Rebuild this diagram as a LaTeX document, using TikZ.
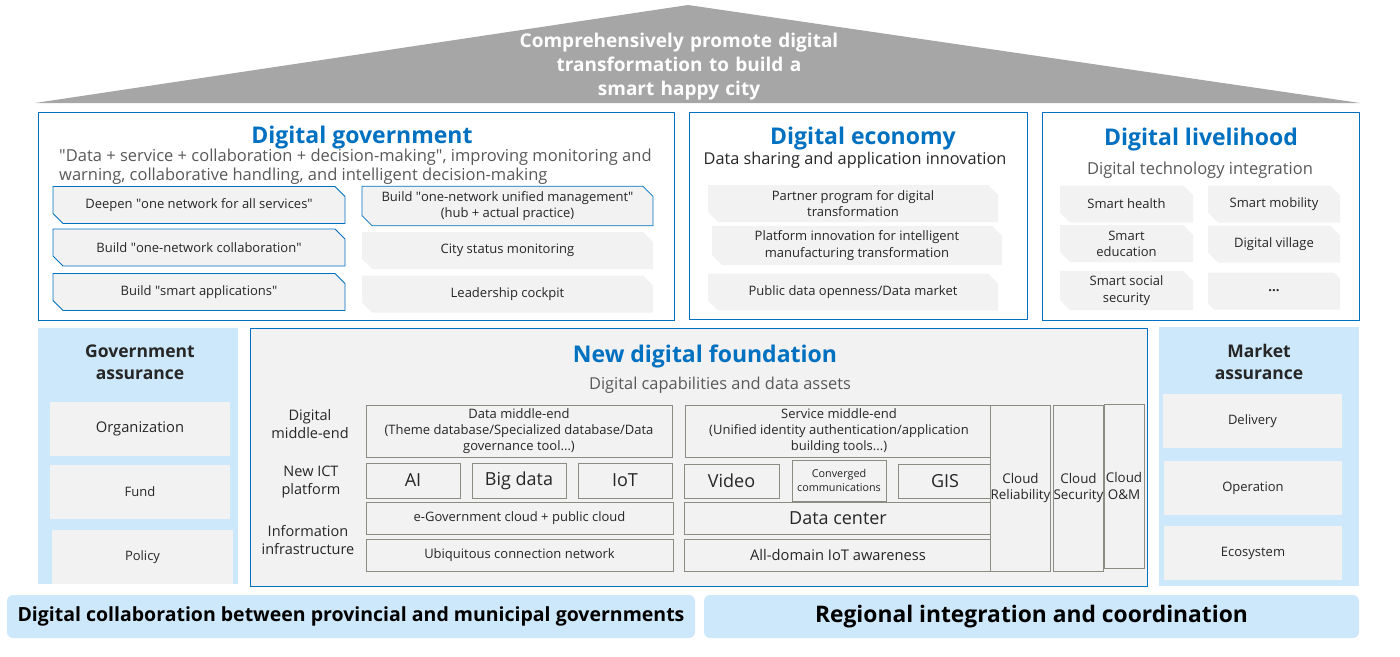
\documentclass[tikz,border=0pt]{standalone}
\usepackage{fontspec}
\setmainfont{Open Sans}
\usepackage{xcolor}
\usetikzlibrary{shapes.misc, positioning, calc}

\definecolor{hwblue}{HTML}{0070C0}
\definecolor{roofgray}{HTML}{A6A6A6}
\definecolor{skyfill}{HTML}{CDE8FB}
\definecolor{cardgray}{HTML}{F2F2F2}
\definecolor{linegray}{HTML}{8C8C82}
\definecolor{subgray}{HTML}{595959}

\newcommand{\fs}[1]{\fontsize{#1pt}{\dimexpr#1pt*5/4\relax}\selectfont}
\newcommand{\qq}{\textquotedbl}

\begin{document}
\begin{tikzpicture}[x=1pt, y=-1pt,
  every node/.style={inner sep=0pt, align=center, font=\fs{13}, text=black!85},
  area/.style={draw=hwblue, line width=1pt, fill=white},
  head/.style={font=\bfseries\fs{23}, text=hwblue},
  card/.style={chamfered rectangle, chamfered rectangle corners={north east, south west},
    chamfered rectangle xsep=5pt, chamfered rectangle ysep=5pt, fill=cardgray},
  bluecard/.style={card, draw=hwblue, line width=0.8pt},
  sky/.style={fill=skyfill},
  tile/.style={fill=cardgray},
  ibox/.style={draw=linegray, line width=1pt, fill=cardgray}]

\useasboundingbox (0,0) rectangle (1400,656);

% roof
\fill[roofgray] (35,103) -- (688,5) -- (1360,103) -- cycle;
\node[text=white, font=\bfseries\fontsize{19pt}{24pt}\selectfont, text width=400pt] (goal) at (679,67)
  {Comprehensively promote digital\\transformation to build a\\smart happy city};

% digital government
\node[area, minimum width=636pt, minimum height=208pt] (gov) at (356,216) {};
\node[head] (govt) at (362,138) {Digital government};
\node[anchor=north west, align=left, text=subgray, font=\fontsize{16.5pt}{19pt}\selectfont] (govs) at (59,148.5)
  {\qq Data + service + collaboration + decision-making\qq, improving monitoring and\\
   warning, collaborative handling, and intelligent decision-making};
\node[bluecard, minimum width=292pt, minimum height=37pt] (g1) at (199,205) {Deepen \qq one network for all services\qq};
\node[bluecard, minimum width=292pt, minimum height=37pt] (g2) at (199,247.5) {Build \qq one-network collaboration\qq};
\node[bluecard, minimum width=292pt, minimum height=37pt] (g3) at (199,292) {Build \qq smart applications\qq};
\node[bluecard, minimum width=291pt, minimum height=37pt] (g4) at (507.5,206) {Build \qq one-network unified management\qq\\(hub + actual practice)};
\node[card, minimum width=291pt, minimum height=37pt] (g5) at (507.5,250.5) {City status monitoring};
\node[card, minimum width=291pt, minimum height=37pt] (g6) at (507.5,294) {Leadership cockpit};

% digital economy
\node[area, minimum width=338pt, minimum height=207pt] (eco) at (858,215.5) {};
\node[head] (ecot) at (863,138.5) {Digital economy};
\node[font=\fs{16.3}] (ecos) at (855,160) {Data sharing and application innovation};
\node[card, minimum width=290pt, minimum height=37pt] (e1) at (853,203.5) {Partner program for digital\\transformation};
\node[card, minimum width=290pt, minimum height=37pt] (e2) at (857,245.5) {Platform innovation for intelligent\\manufacturing transformation};
\node[card, minimum width=290pt, minimum height=37pt] (e3) at (853,292) {Public data openness/Data market};

% digital livelihood
\node[area, minimum width=317pt, minimum height=208pt] (liv) at (1200.5,216) {};
\node[head] (livt) at (1201,139.5) {Digital livelihood};
\node[text=subgray, font=\fs{16.5}] (livs) at (1200,170) {Digital technology integration};
\node[card, minimum width=133pt, minimum height=37pt] (l1) at (1126.5,204) {Smart health};
\node[card, minimum width=133pt, minimum height=37pt] (l2) at (1126.5,243.5) {Smart\\education};
\node[card, minimum width=133pt, minimum height=37pt] (l3) at (1126.5,290.5) {Smart social\\security};
\node[card, minimum width=132pt, minimum height=37pt] (l4) at (1274,204) {Smart mobility};
\node[card, minimum width=132pt, minimum height=37pt] (l5) at (1274,244) {Digital village};
\node[card, minimum width=132pt, minimum height=37pt, font=\bfseries\fs{13}] (l6) at (1274,291) {...};

% government assurance
\node[sky, minimum width=200pt, minimum height=256pt] (gas) at (138,456) {};
\node[font=\bfseries\fs{17.5}] (gast) at (140,362) {Government\\assurance};
\node[tile, minimum width=180pt, minimum height=54pt, font=\fs{14.7}] (ga1) at (140,429) {Organization};
\node[tile, minimum width=180pt, minimum height=54pt] (ga2) at (140,492) {Fund};
\node[tile, minimum width=181pt, minimum height=54pt] (ga3) at (142.5,557) {Policy};

% new digital foundation
\node[area, fill=cardgray, minimum width=897pt, minimum height=258pt] (ndf) at (698.5,457) {};
\node[head] (ndft) at (705,356) {New digital foundation};
\node[text=subgray, font=\fs{16.4}] (ndfs) at (720,385) {Digital capabilities and data assets};
\node[font=\fs{14.5}] (r1) at (310,424) {Digital\\middle-end};
\node[font=\fs{14.5}] (r2) at (311,482) {New ICT\\platform};
\node[font=\fs{14.5}] (r3) at (308,540) {Information\\infrastructure};

\node[ibox, minimum width=306pt, minimum height=52pt] (dme) at (519,431) {Data middle-end\\(Theme database/Specialized database/Data\\governance tool...)};
\node[ibox, minimum width=94pt, minimum height=35pt, font=\fs{18}] (ai) at (413,480.5) {AI};
\node[ibox, minimum width=94pt, minimum height=35pt, font=\fs{18}] (bd) at (519,480.5) {Big data};
\node[ibox, minimum width=94pt, minimum height=35pt, font=\fs{18}] (iot) at (625,480.5) {IoT};
\node[ibox, minimum width=307pt, minimum height=32pt] (egc) at (519.5,518) {e-Government cloud + public cloud};
\node[ibox, minimum width=307pt, minimum height=32pt] (ucn) at (519.5,555) {Ubiquitous connection network};

\node[ibox, minimum width=308pt, minimum height=52pt] (sme) at (839,431) {Service middle-end\\(Unified identity authentication/application\\building tools...)};
\node[ibox, minimum width=95pt, minimum height=34pt, font=\fs{18}] (vid) at (731.5,481) {Video};
\node[ibox, minimum width=94pt, minimum height=41pt, font=\fs{10.8}] (cc) at (839,480.5) {Converged\\communications};
\node[ibox, minimum width=94pt, minimum height=34pt, font=\fs{18}] (gis) at (945,481) {GIS};
\node[ibox, minimum width=308pt, minimum height=32pt, font=\fs{18}] (dc) at (838,518) {Data center};
\node[ibox, minimum width=308pt, minimum height=32pt, font=\fs{14.7}] (aia) at (838,555) {All-domain IoT awareness};

\node[ibox, minimum width=59pt, minimum height=166pt, font=\fs{13.4}] (crl) at (1020.5,488) {Cloud\\Reliability};
\node[ibox, minimum width=49pt, minimum height=166pt, font=\fs{13.4}] (csc) at (1078.5,488) {Cloud\\Security};
\node[ibox, minimum width=40pt, minimum height=164pt, font=\fs{13.4}] (com) at (1124,486) {Cloud\\O\&M};

% market assurance
\node[sky, minimum width=200pt, minimum height=259pt] (mas) at (1259,456.5) {};
\node[font=\bfseries\fs{17.5}] (mast) at (1259,362) {Market\\assurance};
\node[tile, minimum width=179pt, minimum height=54pt] (ma1) at (1252.5,421) {Delivery};
\node[tile, minimum width=178pt, minimum height=54pt] (ma2) at (1253,488) {Operation};
\node[tile, minimum width=178pt, minimum height=54pt] (ma3) at (1253,553) {Ecosystem};

% bottom bars
\node[sky, rounded corners=6pt, minimum width=688pt, minimum height=43pt, font=\bfseries\fs{19.5}, text=black] (prov) at (351,616.5)
  {Digital collaboration between provincial and municipal governments};
\node[sky, rounded corners=6pt, minimum width=655pt, minimum height=43pt, font=\bfseries\fs{22.8}, text=black] (reg) at (1031.5,616.5)
  {Regional integration and coordination};
\end{tikzpicture}
\end{document}
